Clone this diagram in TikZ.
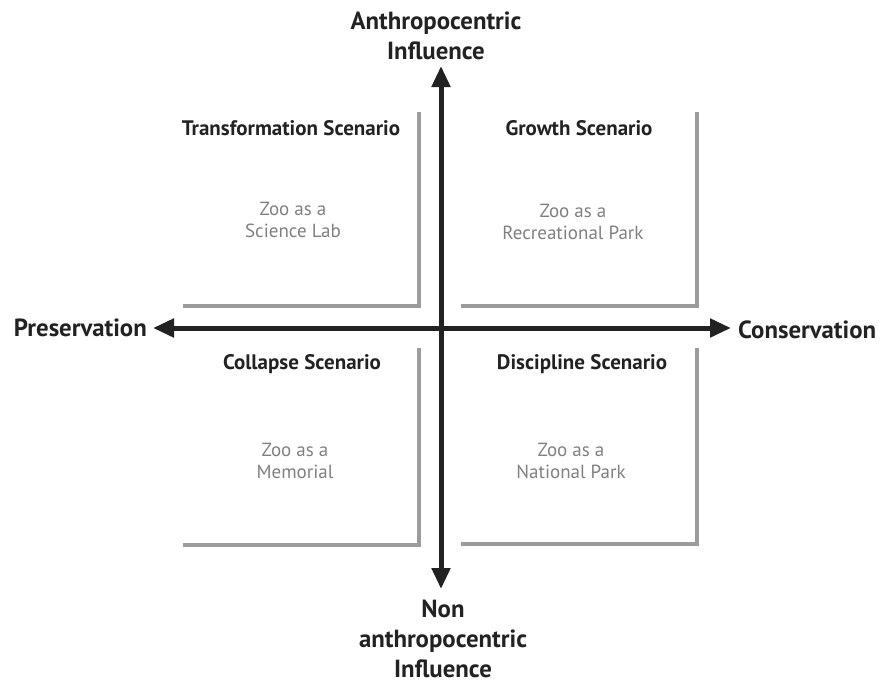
\documentclass[tikz,border=0pt]{standalone}
\usepackage{fontspec}
\setmainfont{PT Sans}
\usetikzlibrary{arrows.meta}
\definecolor{axisc}{HTML}{222222}
\definecolor{framec}{HTML}{9C9C9C}
\definecolor{subc}{HTML}{808080}
\tikzset{
  axis/.style={line width=5pt, draw=axisc, -{Triangle[length=21pt,width=18pt]}},
  frame/.style={line width=4pt, draw=framec, line cap=butt},
  axlabel/.style={font=\fontsize{24.8}{30}\selectfont\bfseries, text=axisc, align=center, inner sep=0pt},
  heading/.style={font=\fontsize{21}{25}\selectfont\bfseries, text=axisc, inner sep=0pt},
  sub/.style={font=\fontsize{19}{22}\selectfont, text=subc, align=center, inner sep=0pt}
}
\begin{document}
\begin{tikzpicture}[x=1pt,y=-1pt]
\useasboundingbox (0,0) rectangle (880,686);
% axis end points
\coordinate (ctr) at (441,328);
\coordinate (top) at (441,66);
\coordinate (bot) at (441,589);
\coordinate (lft) at (153,328);
\coordinate (rgt) at (731,328);
% frames
\draw[frame] (419,112) -- (419,306) -- (183,306);
\draw[frame] (697,112) -- (697,306) -- (461,306);
\draw[frame] (419,348) -- (419,545) -- (183,545);
\draw[frame] (697,348) -- (697,544) -- (461,544);
% axes
\draw[axis] (ctr) -- (top);
\draw[axis] (ctr) -- (bot);
\draw[axis] (ctr) -- (lft);
\draw[axis] (ctr) -- (rgt);
% axis labels
\node[axlabel] (anth) at (436,36) {Anthropocentric\\Influence};
\node[axlabel] (non) at (443,639) {Non\\anthropocentric\\Influence};
\node[axlabel, anchor=east] (pres) at (147,328) {Preservation};
\node[axlabel, anchor=west] (cons) at (738,330) {Conservation};
% headings
\node[heading] (h1) at (291,128) {Transformation Scenario};
\node[heading] (h2) at (579,128) {Growth Scenario};
\node[heading] (h3) at (302,364) {Collapse Scenario};
\node[heading] (h4) at (582,364) {Discipline Scenario};
% sub texts
\node[sub] (s1) at (293,220) {Zoo as a\\Science Lab};
\node[sub] (s2) at (573,222) {Zoo as a\\Recreational Park};
\node[sub] (s3) at (295,461) {Zoo as a\\Memorial};
\node[sub] (s4) at (571,461) {Zoo as a\\National Park};
\end{tikzpicture}
\end{document}
